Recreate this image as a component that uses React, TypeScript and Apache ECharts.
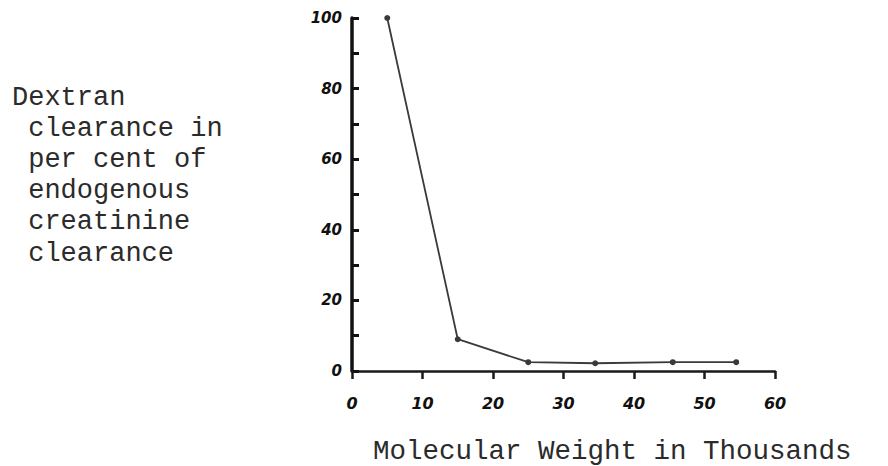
import React, { useEffect, useRef } from "react";
import * as echarts from "echarts";

const molecularWeight = [5, 15, 25, 34.5, 45.5, 54.5];
const clearancePct = [100, 9, 2.5, 2.2, 2.5, 2.5];
const xTicks = [0, 10, 20, 30, 40, 50, 60];
const yLabelValues = [0, 20, 40, 60, 80, 100];
const yTitleLines = [
  "Dextran",
  " clearance in",
  " per cent of",
  " endogenous",
  " creatinine",
  " clearance",
];
const xTitle = "Molecular Weight in Thousands";

export default function App() {
  const ref = useRef<HTMLDivElement>(null);
  useEffect(() => {
    if (!ref.current) return;
    const chart = echarts.init(ref.current, null, { renderer: "svg" });
    const data = molecularWeight.map((x, i) => [x, clearancePct[i]]);
    chart.setOption({
      animation: false,
      backgroundColor: "#ffffff",
      grid: { left: 352, right: 113, top: 18, bottom: 95 },
      xAxis: {
        type: "value",
        min: 0,
        max: 60,
        interval: 10,
        splitLine: { show: false },
        axisLine: { lineStyle: { color: "#1a1a1a", width: 2.5 } },
        axisTick: { show: true, inside: false, length: 8, lineStyle: { color: "#1a1a1a", width: 2.5 } },
        axisLabel: {
          margin: 24,
          color: "#111",
          fontFamily: "DejaVu Sans",
          fontStyle: "italic",
          fontWeight: "bold",
          fontSize: 16,
          formatter: (v: number) => (xTicks.includes(v) ? String(v) : ""),
        },
      },
      yAxis: {
        type: "value",
        min: 0,
        max: 100,
        interval: 10,
        splitLine: { show: false },
        axisLine: { lineStyle: { color: "#111", width: 3.5 } },
        axisTick: { show: true, inside: true, length: 7, lineStyle: { color: "#111", width: 3 } },
        axisLabel: {
          margin: 10,
          color: "#111",
          fontFamily: "DejaVu Sans",
          fontStyle: "italic",
          fontWeight: "bold",
          fontSize: 15,
          formatter: (v: number) => (yLabelValues.includes(v) ? String(v) : ""),
        },
      },
      graphic: [
        ...yTitleLines.map((t, i) => ({
          type: "text",
          left: 12,
          top: 84 + i * 31.2,
          style: {
            text: t,
            font: "27px 'Liberation Mono'",
            fill: "#2b2b2b",
          },
        })),
        {
          type: "text",
          left: 373,
          top: 437,
          style: {
            text: xTitle,
            font: "27.5px 'Liberation Mono'",
            fill: "#2b2b2b",
          },
        },
      ],
      series: [
        {
          type: "line",
          data,
          symbol: "circle",
          symbolSize: 6,
          lineStyle: { color: "#3a3a3a", width: 1.8 },
          itemStyle: { color: "#3a3a3a" },
        },
      ],
    });
    return () => chart.dispose();
  }, []);
  return (
    <div
      ref={ref}
      style={{ position: "fixed", left: 0, top: 0, width: 888, height: 466 }}
    />
  );
}
